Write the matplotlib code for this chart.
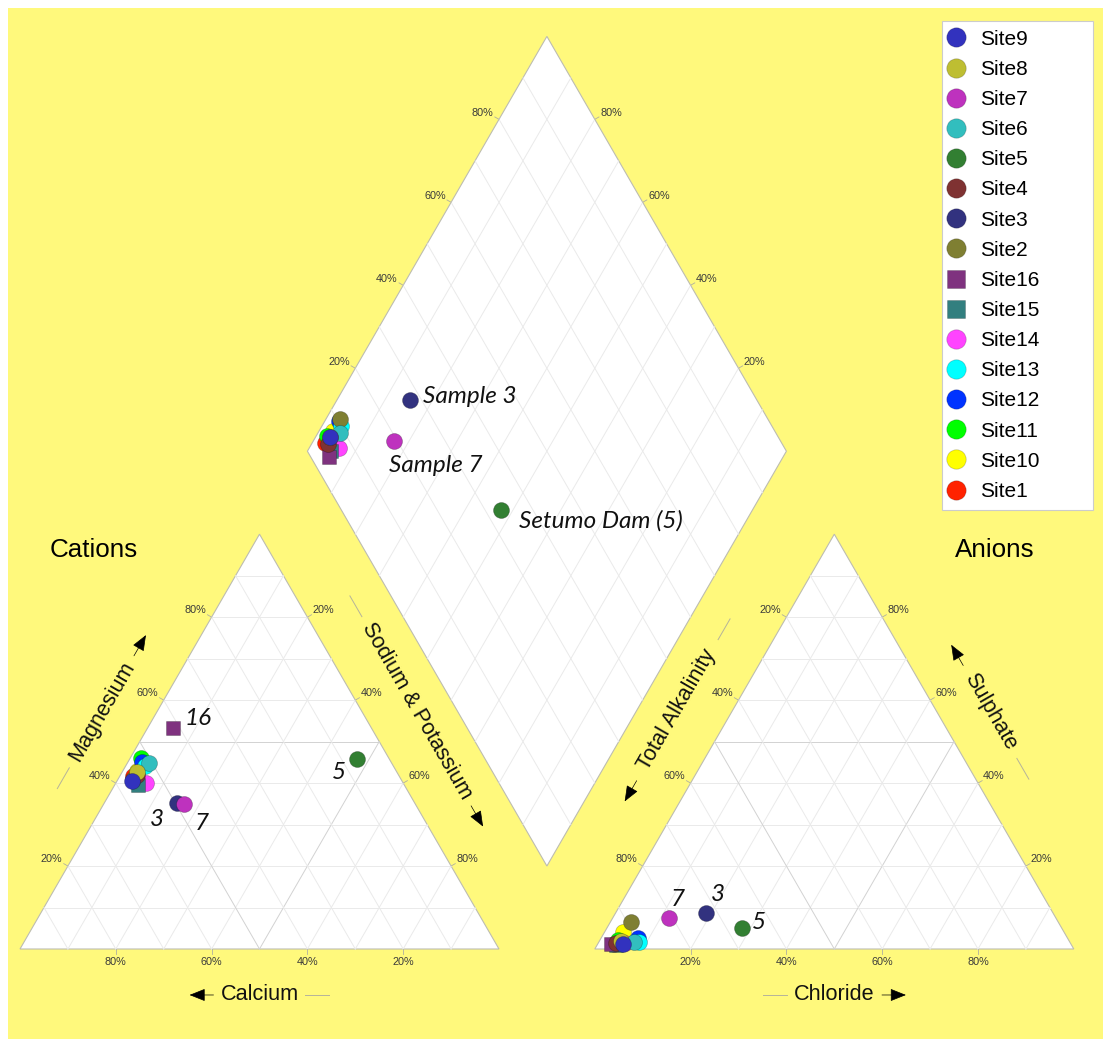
import numpy as np
import matplotlib.pyplot as plt
from matplotlib.lines import Line2D
from matplotlib.patches import Polygon, Rectangle

# sample composition, % of meq (legend order)
sites = ['Site9', 'Site8', 'Site7', 'Site6', 'Site5', 'Site4', 'Site3', 'Site2',
         'Site16', 'Site15', 'Site14', 'Site13', 'Site12', 'Site11', 'Site10', 'Site1']
colors = ['#3232BE', '#BEBE32', '#BE32BE', '#32BEBE', '#327F32', '#7F3232', '#32327F', '#7F7F32',
          '#7F327F', '#327F7F', '#FF44FF', '#00FFFF', '#0033FF', '#00FF00', '#FFFF00', '#FF2200']
shapes = ['o', 'o', 'o', 'o', 'o', 'o', 'o', 'o', 's', 's', 'o', 'o', 'o', 'o', 'o', 'o']

ca = [56.4, 54.3, 48.3, 50.7, 6.7, 54.5, 49.6, 56.0, 41.4, 55.6, 53.7, 52.0, 52.0, 51.8, 54.0, 55.5]
mg = [40.6, 42.7, 34.9, 44.8, 45.8, 42.0, 35.1, 41.0, 53.3, 39.5, 40.1, 44.0, 45.0, 46.0, 43.0, 41.8]
nak = [3.0, 3.0, 16.8, 4.5, 47.5, 3.5, 15.3, 3.0, 5.3, 4.9, 6.2, 4.0, 3.0, 2.2, 3.0, 2.7]

alk = [93.6, 93.5, 80.8, 91.0, 66.7, 94.8, 72.4, 89.3, 96.1, 95.0, 93.0, 89.9, 89.7, 94.1, 92.2, 95.3]
cl = [5.3, 4.5, 11.7, 7.4, 28.2, 3.8, 18.9, 4.3, 2.8, 4.0, 5.5, 8.3, 7.7, 3.7, 3.8, 3.5]
so4 = [1.1, 2.0, 7.5, 1.6, 5.1, 1.4, 8.7, 6.4, 1.1, 1.0, 1.5, 1.8, 2.6, 2.2, 4.0, 1.2]

# hand labels: site index, text, offset (points) in each plot
cat_labels = [(8, '16', (8, 6.5), 'left'), (4, '5', (-13, -9.5), 'center'),
              (6, '3', (-15, -11.5), 'center'), (2, '7', (13, -14), 'center')]
an_labels = [(2, '7', (6.5, 13.5), 'center'), (6, '3', (8.5, 13), 'center'),
             (4, '5', (12, 3.5), 'center')]
dia_labels = [(6, 'Sample 3', (9, 2.5), 'left'), (2, 'Sample 7', (-3.5, -17.5), 'left'),
              (4, 'Setumo Dam (5)', (13, -8), 'left')]

YELLOW = '#FFF97C'
H = np.sqrt(3) / 2
GAP = 20
AX0 = 100 + GAP            # left corner of anion triangle
DB = (100 + GAP / 2, GAP * H)   # bottom corner of diamond

ca, mg, nak = np.array(ca), np.array(mg), np.array(nak)
alk, cl, so4 = np.array(alk), np.array(cl), np.array(so4)

cx, cy = nak + mg / 2, mg * H
axx, ayy = AX0 + cl + so4 / 2, so4 * H
camg, clso4 = ca + mg, cl + so4
dx, dy = DB[0] + (clso4 - camg) / 2, DB[1] + H * (clso4 + camg)

plt.rcParams['font.family'] = 'Liberation Sans'
fig = plt.figure(figsize=(11.03, 10.39), dpi=100)
fig.patch.set_facecolor('white')
ax = fig.add_axes([0, 0, 1, 1])
u = 4.79
ax.set_xlim(-20 / u, (1103 - 20) / u)
ax.set_ylim(-(1039 - 949) / u, 949 / u)
ax.axis('off')
ax.add_patch(Rectangle((8 / 1103, 0), 1, 1 - 8 / 1039, transform=fig.transFigure,
                       facecolor=YELLOW, edgecolor='none', zorder=0))

GRID = '#EAEAEA'
GRID50 = '#D2D2D2'
EDGE = '#BDBDB0'


def triangle(ox):
    ax.add_patch(Polygon([(ox, 0), (ox + 100, 0), (ox + 50, 100 * H)], closed=True,
                         facecolor='white', edgecolor=EDGE, lw=0.8, zorder=1))
    for v in range(10, 100, 10):
        c = GRID50 if v == 50 else GRID
        ax.plot([ox + v / 2, ox + 100 - v / 2], [v * H, v * H], color=c, lw=0.7, zorder=2)
        ax.plot([ox + v, ox + v + (100 - v) / 2], [0, (100 - v) * H], color=c, lw=0.7, zorder=2)
        ax.plot([ox + v, ox + v / 2], [0, v * H], color=c, lw=0.7, zorder=2)


triangle(0)
triangle(AX0)

# diamond
bx, by = DB
L = (bx - 50, by + 100 * H)
R = (bx + 50, by + 100 * H)
T = (bx, by + 200 * H)
ax.add_patch(Polygon([DB, L, T, R], closed=True, facecolor='white', edgecolor=EDGE,
                     lw=0.8, zorder=1))
for v in range(10, 100, 10):
    p = (bx + v / 2, by + v * H)
    ax.plot([p[0], p[0] - 50], [p[1], p[1] + 100 * H], color=GRID, lw=0.7, zorder=2)
    p = (bx - v / 2, by + v * H)
    ax.plot([p[0], p[0] + 50], [p[1], p[1] + 100 * H], color=GRID, lw=0.7, zorder=2)

# tick labels
TK = dict(fontsize=7.8, color='#3A3A3A', ha='center', va='center', zorder=5)


def tick(px, py, n, txt, off):
    ax.plot([px, px + n[0]], [py, py + n[1]], color='#B0B0A0', lw=0.6, zorder=2)
    ax.text(px + off[0], py + off[1], txt, **TK)


for v in (20, 40, 60, 80):
    # cations
    tick(v, 0, (0, -1), f'{100 - v}%', (0, -2.7))
    tick(v / 2, v * H, (-0.87, 0.5), f'{v}%', (-3.4, 1.5))
    tick(100 - v / 2, v * H, (0.87, 0.5), f'{100 - v}%', (3.3, 1.5))
    # anions
    tick(AX0 + v, 0, (0, -1), f'{v}%', (0, -2.7))
    tick(AX0 + v / 2, v * H, (-0.87, 0.5), f'{100 - v}%', (-3.4, 1.5))
    tick(AX0 + 100 - v / 2, v * H, (0.87, 0.5), f'{v}%', (3.3, 1.5))
    # diamond
    tick(L[0] + v / 2, L[1] + v * H, (-0.87, 0.5), f'{v}%', (-3.4, 1.3))
    tick(R[0] - v / 2, R[1] + v * H, (0.87, 0.5), f'{v}%', (3.4, 1.3))


def edge_title(mid, d, n, dist, s, h, txt, rot, arrow_end):
    d, n = np.array(d), np.array(n)
    c = np.array(mid) + n * dist + d * s
    ax.text(c[0], c[1], txt, fontsize=15.6, rotation=rot, rotation_mode='anchor',
            ha='center', va='center', color='#111111', zorder=5)
    a0, a1 = c + d * (h + 1.5), c + d * (h + 6.5)
    b0, b1 = c - d * (h + 1.5), c - d * (h + 6.5)
    if not arrow_end:
        a0, a1, b0, b1 = b0, b1, a0, a1
    ax.plot([b0[0], b1[0]], [b0[1], b1[1]], color='#B5B39A', lw=0.7, zorder=4)
    ax.annotate('', xy=a1, xytext=a0, zorder=5,
                arrowprops=dict(arrowstyle='-|>,head_length=0.55,head_width=0.22',
                                color='black', lw=0.5, shrinkA=0, shrinkB=0,
                                mutation_scale=18))


up, down = (0.5, H), (0.5, -H)
edge_title((25, 50 * H), up, (-H, 0.5), 10, 1.4, 12, 'Magnesium', 60, True)
edge_title((75, 50 * H), down, (H, 0.5), 9.9, -1.6, 21.3, 'Sodium & Potassium', -60, True)
edge_title((50, 0), (1, 0), (0, -1), 9.6, 0, 8.1, 'Calcium', 0, False)
edge_title((AX0 + 25, 50 * H), up, (-H, 0.5), 10, 1.8, 15.5, 'Total Alkalinity', 60, False)
edge_title((AX0 + 75, 50 * H), down, (H, 0.5), 9.6, -1.6, 9.7, 'Sulphate', -60, False)
edge_title((AX0 + 50, 0), (1, 0), (0, -1), 9.6, 0, 8.45, 'Chloride', 0, True)

ax.text(15.3, 83.3, 'Cations', fontsize=18.7, ha='center', va='center', zorder=5)
ax.text(203.5, 83.3, 'Anions', fontsize=18.7, ha='center', va='center', zorder=5)

# samples, Site9 drawn last
for i in reversed(range(len(sites))):
    ms = 10.5 if shapes[i] == 's' else 11.5
    kw = dict(marker=shapes[i], ms=ms, color=colors[i], mec=(0, 0, 0, 0.25), mew=0.6,
              ls='none', zorder=10 + len(sites) - i)
    ax.plot(cx[i], cy[i], **kw)
    ax.plot(axx[i], ayy[i], **kw)
    ax.plot(dx[i], dy[i], **kw)

LBL = dict(fontsize=17.5, style='italic', family='Lato', color='#111111',
           textcoords='offset points', va='center', zorder=40)
for i, t, off, ha in cat_labels:
    ax.annotate(t, (cx[i], cy[i]), xytext=off, ha=ha, **LBL)
for i, t, off, ha in an_labels:
    ax.annotate(t, (axx[i], ayy[i]), xytext=off, ha=ha, **LBL)
for i, t, off, ha in dia_labels:
    ax.annotate(t, (dx[i], dy[i]), xytext=off, ha=ha, **LBL)

handles = [Line2D([], [], marker=shapes[i], ms=13 if shapes[i] == 's' else 14, color=colors[i],
                  mec=(0, 0, 0, 0.2), mew=0.6, ls='none') for i in range(len(sites))]
leg = ax.legend(handles, sites, loc='upper left', mode='expand',
                bbox_to_anchor=(942 / 1103, 1 - 21 / 1039 - 0.01, 151 / 1103, 0.01),
                bbox_transform=fig.transFigure, fontsize=15, frameon=True,
                fancybox=False, labelspacing=0.535, handlelength=0.5, handletextpad=0.9,
                borderpad=0.42, borderaxespad=0)
leg.get_frame().set_edgecolor('#CCCCCC')
leg.get_frame().set_facecolor('white')
leg.get_frame().set_alpha(1)
leg.get_frame().set_linewidth(0.8)
leg.set_zorder(50)

fig.savefig('out.png', dpi=100, facecolor=fig.get_facecolor())
